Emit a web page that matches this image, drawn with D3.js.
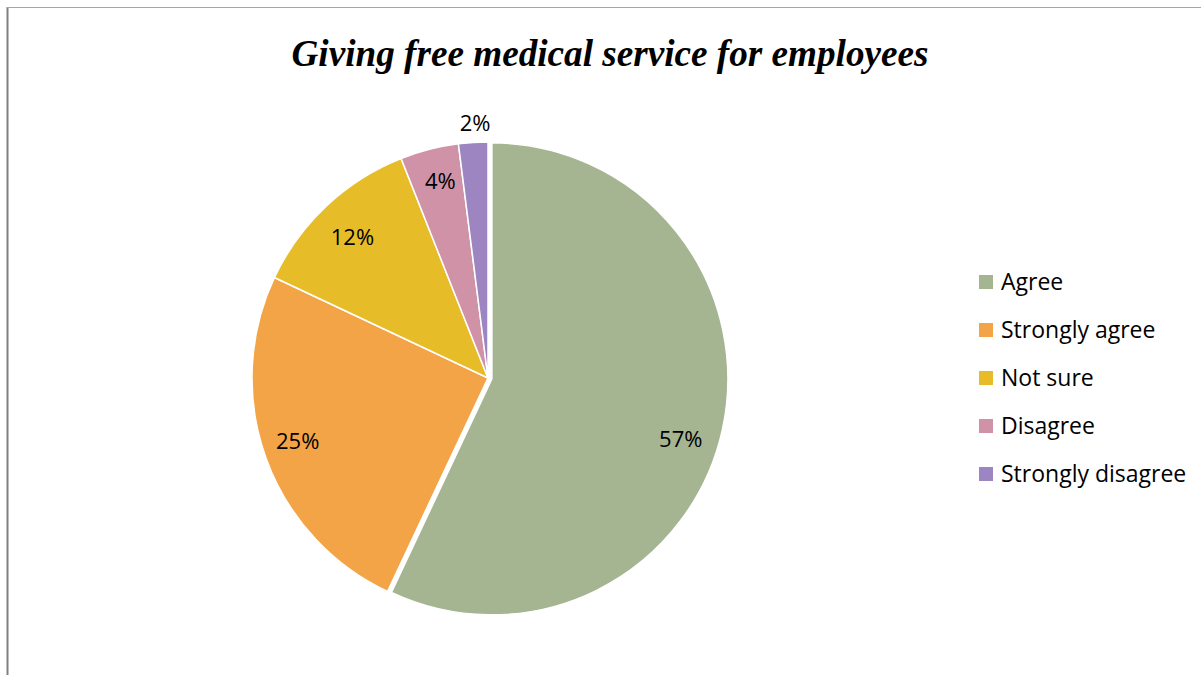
<!DOCTYPE html>
<html>
<head>
<meta charset="utf-8">
<script src="https://cdn.jsdelivr.net/npm/d3@7"></script>
<style>
  html, body { margin: 0; padding: 0; background: #fff; }
  svg { display: block; }
</style>
</head>
<body>
<svg id="chart" width="1201" height="675"></svg>
<script>
// Survey responses
const categories = ["Agree", "Strongly agree", "Not sure", "Disagree", "Strongly disagree"];
const values = [57, 25, 12, 4, 2];
const colors = ["#A5B592", "#F3A447", "#E7BC29", "#D092A7", "#9C85C0"];
const title = "Giving free medical service for employees";

const svg = d3.select("#chart");
const W = 1201, H = 675;
const labelFont = "'Open Sans', 'Noto Sans', sans-serif";

// Chart frame
svg.append("line").attr("x1", 7.5).attr("y1", 7).attr("x2", 7.5).attr("y2", H)
  .attr("stroke", "#808080").attr("stroke-width", 2);
svg.append("line").attr("x1", 7).attr("y1", 7.5).attr("x2", W).attr("y2", 7.5)
  .attr("stroke", "#a6a6a6").attr("stroke-width", 1);

// Title
svg.append("text")
  .attr("x", 610).attr("y", 66)
  .attr("text-anchor", "middle")
  .attr("font-family", "'Liberation Serif', 'Times New Roman', serif")
  .attr("font-style", "italic").attr("font-weight", "bold")
  .attr("font-size", 37)
  .attr("textLength", 637).attr("lengthAdjust", "spacingAndGlyphs")
  .attr("fill", "#000")
  .text(title);

// Pie
const cx = 488, cy = 378, R = 236;
const color = d3.scaleOrdinal().domain(categories).range(colors);
const pie = d3.pie().sort(null).value(d => d.value);
const data = categories.map((c, i) => ({ name: c, value: values[i] }));
const arcs = pie(data);
const arc = d3.arc().innerRadius(0).outerRadius(R);
const explode = [4, 0, 0, 0, 0];

const g = svg.append("g").attr("transform", `translate(${cx},${cy})`);
g.selectAll("path.slice").data(arcs).enter().append("path")
  .attr("class", "slice")
  .attr("d", arc)
  .attr("fill", d => color(d.data.name))
  .attr("stroke", "#fff").attr("stroke-width", 1.5)
  .attr("transform", (d, i) => {
    const a = (d.startAngle + d.endAngle) / 2;
    return `translate(${explode[i] * Math.sin(a)},${-explode[i] * Math.cos(a)})`;
  });

// Data labels: radius fraction and angular nudge (degrees) per slice
const labelRadius = [0.84, 0.85, 0.83, 0.86, 1.08];
const labelNudge = [5, 1.4, -0.6, 0.8, 0.7];
const fmt = d => d3.format(".0%")(d / 100);
const labelPos = (d, i) => {
  const a = (d.startAngle + d.endAngle) / 2 + labelNudge[i] * Math.PI / 180;
  const r = labelRadius[i] * R + explode[i];
  return [r * Math.sin(a), -r * Math.cos(a)];
};
g.selectAll("text.lbl").data(arcs).enter().append("text")
  .attr("class", "lbl")
  .attr("x", (d, i) => labelPos(d, i)[0])
  .attr("y", (d, i) => labelPos(d, i)[1])
  .attr("dy", "0.36em")
  .attr("text-anchor", "middle")
  .attr("font-family", labelFont)
  .attr("font-size", 22)
  .attr("fill", "#000")
  .text(d => fmt(d.data.value));

// Legend
const legend = svg.append("g").attr("transform", "translate(979,282)");
const ly = d3.scalePoint().domain(categories).range([0, 192]);
const items = legend.selectAll("g").data(categories).enter().append("g")
  .attr("transform", d => `translate(0,${ly(d)})`);
items.append("rect").attr("x", 0).attr("y", -7).attr("width", 14).attr("height", 14)
  .attr("fill", d => color(d));
items.append("text").attr("x", 22).attr("y", 0).attr("dy", "0.36em")
  .attr("font-family", labelFont)
  .attr("font-size", 23)
  .attr("fill", "#000")
  .text(d => d);
</script>
</body>
</html>
